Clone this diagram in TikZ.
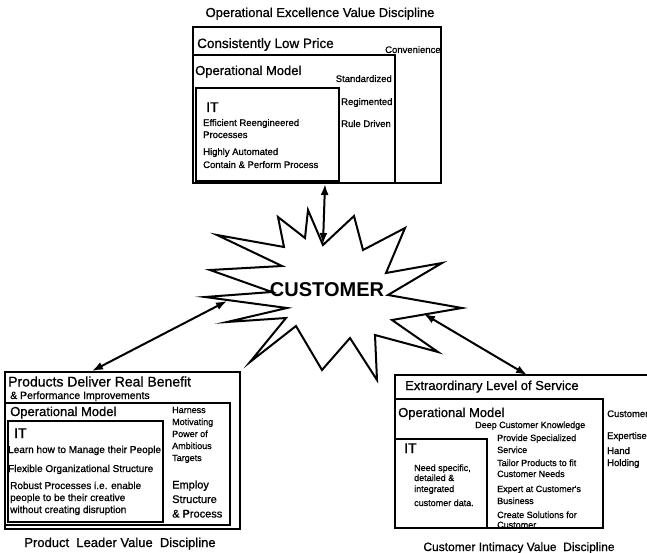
\documentclass[tikz,border=0pt]{standalone}
\usepackage{fontspec}
\setmainfont{Liberation Sans}
\newfontfamily\heavyfont{Liberation Sans}[FakeBold=0.9]
\usetikzlibrary{arrows.meta}
\newcommand\txtsize[1]{\heavyfont\fontsize{#1}{#1}\selectfont}
\begin{document}
\begin{tikzpicture}[x=1pt,y=-1pt,
  frame/.style={draw, line width=2.2pt},
  lbl/.style={inner sep=0pt, anchor=base west},
  head/.style={lbl, font=\txtsize{13}},
  itlbl/.style={lbl, font=\txtsize{14}},
  small/.style={lbl, font=\txtsize{9.5}},
  caption/.style={inner sep=0pt, anchor=base, font=\txtsize{13}},
  link/.style={line width=2pt, {Latex[length=11pt,width=8pt]}-{Latex[length=11pt,width=8pt]}}]
\useasboundingbox (0,0) rectangle (647,553);
\fill[white] (0,0) rectangle (647,553);
\begin{scope}
\clip (0,0) rectangle (647,553);

% ---------- Operational excellence (top) ----------
\node[caption] (opxTitle) at (320,17) {Operational Excellence Value Discipline};
\draw[frame] (193,27) rectangle (441,183);
\draw[frame] (193,55) rectangle (395,183);
\draw[frame] (196,88) rectangle (339,181);
\node[lbl, font=\txtsize{13.5}] (opxHead) at (197,48) {Consistently Low Price};
\node[small] (opxConv) at (385,53) {Convenience};
\node[head] (opxModel) at (195,75) {Operational Model};
\node[small, anchor=base east] (opxStd) at (392,82) {Standardized};
\node[small] (opxReg) at (341,105) {Regimented};
\node[small] (opxRule) at (341,127) {Rule Driven};
\node[itlbl] (opxIT) at (206,112) {IT};
\node[small] (opxIT1) at (203,126) {Efficient Reengineered};
\node[small] (opxIT2) at (203,138) {Processes};
\node[small] (opxIT3) at (203,155) {Highly Automated};
\node[small] (opxIT4) at (203,168) {Contain \& Perform Process};

% ---------- Product leader (bottom left) ----------
\draw[frame] (5,372) rectangle (240,529);
\draw[frame] (5,403) rectangle (230,525);
\draw[frame] (8,421) rectangle (163,522);
\node[lbl, font=\txtsize{14}] (plHead) at (8,386.5) {Products Deliver Real Benefit};
\node[lbl, font=\txtsize{10.5}] (plHead2) at (10,399) {\& Performance Improvements};
\node[head] (plModel) at (10,416) {Operational Model};
\node[itlbl] (plIT) at (14,438) {IT};
\node[lbl, font=\txtsize{10}] (plIT1) at (8,453) {Learn how to Manage their People};
\node[lbl, font=\txtsize{10}] (plIT2) at (8,472) {Flexible Organizational Structure};
\node[lbl, font=\txtsize{10}] (plIT3) at (10,489) {Robust Processes i.e. enable};
\node[lbl, font=\txtsize{10}] (plIT4) at (10,501) {people to be their creative};
\node[lbl, font=\txtsize{10}] (plIT5) at (10,513) {without creating disruption};
\foreach \t [count=\i] in {Harness,Motivating,Power of,Ambitious,Targets}
  \node[lbl, font=\txtsize{9}] (plHarness\i) at (172,{401+12*\i}) {\t};
\foreach \t [count=\i] in {Employ,Structure,\& Process}
  \node[lbl, font=\txtsize{11}] (plEmploy\i) at (172,{474+14.5*\i}) {\t};
\node[caption] (plTitle) at (120,547) {Product\ \ Leader Value\ \ Discipline};

% ---------- Customer intimacy (bottom right) ----------
\draw[frame] (660,375) -- (395,375) -- (395,528) -- (603,528);
\draw[frame] (395,399) rectangle (603,528);
\draw[frame] (395,439) rectangle (487,528);
\node[head] (ciHead) at (405,390) {Extraordinary Level of Service};
\node[head] (ciModel) at (398,417) {Operational Model};
\node[lbl, font=\txtsize{9}] (ciDeep) at (475,428) {Deep Customer Knowledge};
\foreach \t/\y [count=\i] in {Provide Specialized/441,Service/453,Tailor Products to fit/466,
    Customer Needs/477,Expert at Customer's/492,Business/504,Create Solutions for/518,Customer/528}
  \node[lbl, font=\txtsize{9}] (ciOp\i) at (497,\y) {\t};
\node[itlbl] (ciIT) at (404,453) {IT};
\foreach \t/\y [count=\i] in {{Need specific,}/471,detailed \&/481,integrated/492,customer data./506}
  \node[lbl, font=\txtsize{9}] (ciIT\i) at (414,\y) {\t};
\foreach \t/\y [count=\i] in {Customer/417,Expertise/439,Hand/454,Holding/466}
  \node[small] (ciSide\i) at (607,\y) {\t};
\node[caption, font=\txtsize{12}] (ciTitle) at (519,551) {Customer Intimacy Value\ \ Discipline};

% ---------- Customer starburst ----------
\draw[line width=2pt, fill=white, line join=miter, miter limit=20]
  (308,210) -- (323,245) -- (354,216) -- (363,250) -- (405,228) -- (386,273)
  -- (442,263) -- (388,295) -- (462,308) -- (392,320) -- (438,352) -- (375,335)
  -- (377,380) -- (350,338) -- (322,370) -- (296,326) -- (250,362) -- (286,318)
  -- (227,322) -- (287,308) -- (205,297) -- (272,292) -- (210,270) -- (282,266)
  -- (217,235) -- (284,247) -- (278,217) -- (305,238) -- cycle;
\node[inner sep=0pt, font=\bfseries\fontsize{20}{20}\selectfont] (cust) at (327,290) {CUSTOMER};

% ---------- links ----------
\coordinate (opxEnd) at (325,184);
\coordinate (custTop) at (323,244);
\coordinate (custLeft) at (227,301);
\coordinate (plEnd) at (92,371);
\coordinate (custRight) at (424,314);
\coordinate (ciEnd) at (527,375);
\draw[link] (opxEnd) -- (custTop);
\draw[link] (custLeft) -- (plEnd);
\draw[link] (custRight) -- (ciEnd);
\end{scope}
\end{tikzpicture}
\end{document}
